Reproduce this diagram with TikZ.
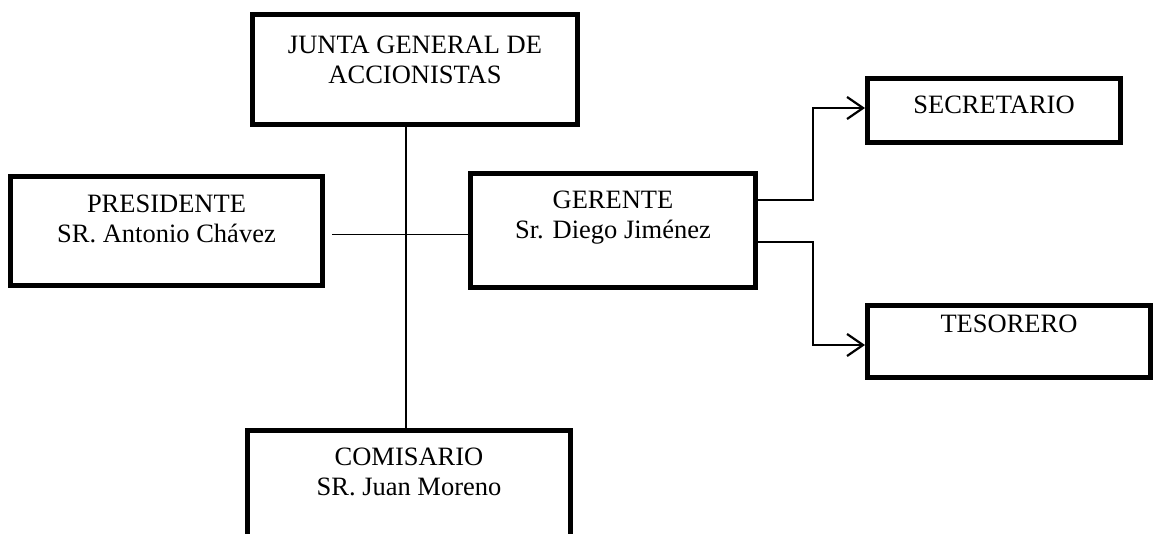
\documentclass[tikz,border=0pt]{standalone}
\usepackage{fontspec}
\setmainfont{Liberation Serif}
\usetikzlibrary{arrows.meta}
\newcommand\bxtext[4]{\parbox[c][#2pt][t]{#1pt}{\centering\rule{0pt}{#3pt}#4}}
\begin{document}
\begin{tikzpicture}[x=1pt,y=-1pt,
  orgbox/.style={draw, line width=5pt, inner sep=0pt, fill=white,
    font=\fontsize{26.5}{30}\selectfont},
  thinline/.style={line width=1.4pt},
  conn/.style={line width=2.2pt, -{Straight Barb[length=16pt,width=22pt]}}]
\useasboundingbox (0,0) rectangle (1155,534);
\clip (0,0) rectangle (1155,534);
\node[orgbox] (junta) at (415,69.5) {\bxtext{325}{110}{38.8}{JUNTA GENERAL DE\\ACCIONISTAS}};
\node[orgbox] (presidente) at (166.5,231) {\bxtext{312}{109}{36.5}{PRESIDENTE\\SR. Antonio Chávez}};
\node[orgbox] (gerente) at (613,230.5) {\bxtext{285}{114}{35.5}{GERENTE\\Sr. Diego Jiménez}};
\node[orgbox] (secretario) at (994,110.5) {\bxtext{253}{64}{35.5}{SECRETARIO}};
\node[orgbox] (tesorero) at (1009,341.5) {\bxtext{283}{72}{26.5}{TESORERO}};
\node[orgbox] (comisario) at (409,515.25) {\bxtext{323}{169.5}{34.5}{COMISARIO\\SR. Juan Moreno}};
\coordinate (vx) at (406,0);
\coordinate (hs) at ([xshift=7pt,yshift=-3.3pt]presidente.east);
\draw[thinline] (junta.south -| vx) -- (comisario.north -| vx);
\draw[thinline] (hs) -- (hs -| gerente.west);
\draw[conn] ([yshift=30.5pt]gerente.east) -- ++(55,0) |- ([yshift=2.5pt]secretario.west);
\draw[conn] ([yshift=-11.5pt]gerente.east) -- ++(55,0) |- ([yshift=-3.5pt]tesorero.west);
\end{tikzpicture}
\end{document}
